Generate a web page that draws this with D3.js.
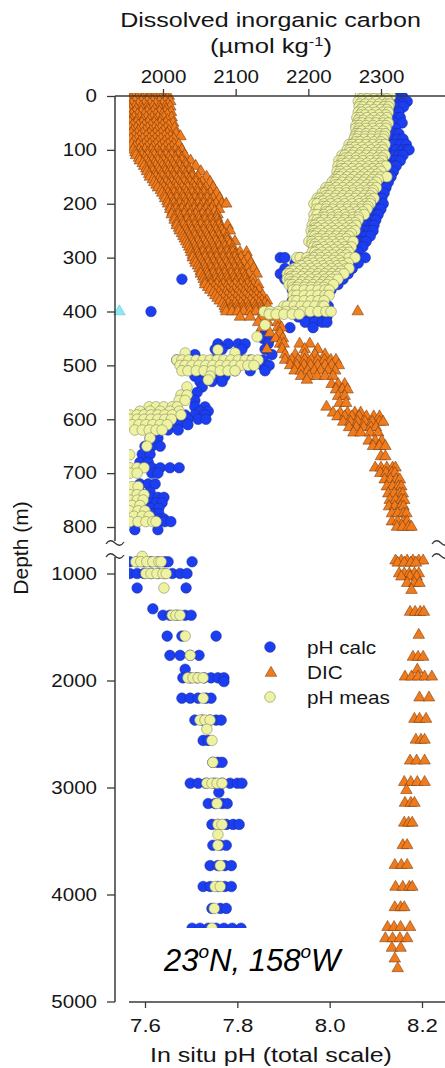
<!DOCTYPE html>
<html>
<head>
<meta charset="utf-8">
<script src="https://cdn.jsdelivr.net/npm/d3@7"></script>
<style>
  html, body { margin: 0; padding: 0; background: #fff; }
  svg { display: block; font-family: "Liberation Sans", Arial, Helvetica, sans-serif; }
</style>
</head>
<body>
<svg id="chart" width="445" height="1068"></svg>
<script>
// ---------------------------------------------------------------------------
// Station profile, 23°N 158°W: DIC (µmol/kg) and in situ pH vs depth (m).
// Each row is [depth, [values sampled at that depth across casts]].
// ---------------------------------------------------------------------------

const dicTicks = [2000, 2100, 2200, 2300];
const phTicks = [7.6, 7.8, 8.0, 8.2];
const depthTicksUpper = [0, 100, 200, 300, 400, 500, 600, 700, 800];
const depthTicksLower = [1000, 2000, 3000, 4000, 5000];
const legendLabels = ["pH calc", "DIC", "pH meas"];

// Dissolved inorganic carbon (µmol kg-1)
const dicRows = [
  [0, [1953, 1960, 1967, 1974, 1981, 1988, 1995, 2001, 2008]],
  [5, [1956, 1964, 1972, 1981, 1989, 1997, 2006]],
  [10, [1953, 1961, 1970, 1978, 1986, 1995, 2003, 2010]],
  [15, [1957, 1966, 1974, 1982, 1990, 1999, 2007]],
  [20, [1953, 1961, 1970, 1978, 1986, 1995, 2003, 2010]],
  [25, [1955, 1963, 1971, 1979, 1988, 1996, 2004]],
  [30, [1953, 1961, 1970, 1978, 1986, 1995, 2003, 2011]],
  [35, [1957, 1965, 1974, 1982, 1990, 1999, 2006]],
  [40, [1953, 1960, 1968, 1977, 1985, 1993, 2001, 2012]],
  [45, [1956, 1964, 1972, 1981, 1989, 1997, 2006]],
  [50, [1955, 1963, 1971, 1979, 1988, 1996, 2004, 2014]],
  [55, [1958, 1966, 1974, 1983, 1991, 1999, 2008]],
  [60, [1955, 1963, 1971, 1979, 1988, 1996, 2004, 2016]],
  [65, [1958, 1966, 1975, 1983, 1991, 2000, 2008]],
  [70, [1956, 1964, 1972, 1981, 1989, 1997, 2006, 2018]],
  [75, [1960, 1968, 1977, 1985, 1993, 2002, 2010, 2024]],
  [80, [1956, 1964, 1972, 1981, 1989, 1997, 2006, 2015]],
  [85, [1960, 1968, 1977, 1985, 1993, 2002, 2011]],
  [90, [1957, 1966, 1974, 1982, 1990, 1999, 2007, 2015, 2022]],
  [95, [1961, 1970, 1978, 1986, 1995, 2003, 2012]],
  [100, [1959, 1967, 1975, 1984, 1992, 2000, 2008, 2017, 2026]],
  [105, [1962, 1970, 1979, 1987, 1995, 2004, 2012, 2021]],
  [110, [1963, 1971, 1979, 1988, 1996, 2004, 2012, 2021, 2030]],
  [115, [1967, 1975, 1983, 1992, 2000, 2008, 2017, 2026]],
  [120, [1968, 1977, 1985, 1993, 2001, 2010, 2018, 2026, 2038]],
  [125, [1972, 1980, 1988, 1997, 2005, 2013, 2022, 2031]],
  [130, [1974, 1982, 1990, 1999, 2007, 2015, 2023, 2032, 2045]],
  [135, [1977, 1985, 1993, 2002, 2010, 2018, 2027, 2036]],
  [140, [1978, 1986, 1995, 2003, 2011, 2019, 2028, 2036, 2052]],
  [145, [1981, 1989, 1998, 2006, 2014, 2023, 2031, 2040]],
  [150, [1982, 1990, 1999, 2007, 2015, 2023, 2032, 2040, 2048, 2060]],
  [155, [1986, 1994, 2003, 2011, 2019, 2028, 2036, 2045]],
  [160, [1988, 1996, 2004, 2012, 2021, 2029, 2037, 2045, 2054, 2065]],
  [165, [1991, 1999, 2008, 2016, 2024, 2033, 2041, 2050]],
  [170, [1993, 2001, 2010, 2018, 2026, 2034, 2043, 2051, 2059, 2069]],
  [175, [1997, 2005, 2014, 2022, 2030, 2039, 2047, 2056]],
  [180, [1999, 2007, 2015, 2023, 2032, 2040, 2048, 2056, 2065, 2074]],
  [185, [2002, 2010, 2019, 2027, 2035, 2044, 2052, 2061]],
  [190, [2003, 2011, 2019, 2028, 2036, 2044, 2052, 2061, 2069, 2078]],
  [195, [2006, 2014, 2023, 2031, 2039, 2048, 2056, 2065]],
  [200, [2007, 2015, 2023, 2032, 2040, 2048, 2056, 2065, 2073, 2081, 2087]],
  [205, [2010, 2018, 2027, 2035, 2043, 2052, 2060, 2068]],
  [210, [2010, 2018, 2026, 2034, 2043, 2051, 2059, 2067, 2077]],
  [215, [2013, 2021, 2030, 2038, 2046, 2055, 2063, 2071]],
  [220, [2012, 2021, 2029, 2037, 2045, 2054, 2062, 2075]],
  [225, [2016, 2024, 2033, 2041, 2049, 2058, 2066, 2074]],
  [230, [2016, 2025, 2033, 2041, 2050, 2058, 2066, 2075]],
  [235, [2019, 2027, 2036, 2044, 2052, 2061, 2069, 2077]],
  [240, [2019, 2028, 2036, 2044, 2052, 2061, 2069, 2077, 2089]],
  [245, [2022, 2031, 2039, 2047, 2056, 2064, 2072, 2080]],
  [250, [2023, 2032, 2040, 2048, 2056, 2065, 2073, 2081, 2092]],
  [255, [2026, 2034, 2043, 2051, 2059, 2068, 2076, 2084]],
  [260, [2028, 2036, 2044, 2052, 2061, 2069, 2077, 2088]],
  [265, [2030, 2038, 2047, 2055, 2063, 2072, 2080, 2088]],
  [270, [2032, 2040, 2048, 2056, 2065, 2073, 2081, 2089, 2099]],
  [275, [2034, 2042, 2051, 2059, 2067, 2076, 2084, 2092]],
  [280, [2036, 2044, 2052, 2061, 2069, 2077, 2085, 2096]],
  [285, [2038, 2046, 2055, 2063, 2071, 2080, 2088, 2096]],
  [290, [2039, 2047, 2055, 2063, 2072, 2080, 2088, 2096, 2106, 2115]],
  [295, [2041, 2049, 2058, 2066, 2074, 2083, 2091, 2099]],
  [300, [2041, 2050, 2058, 2066, 2074, 2083, 2091, 2099, 2107, 2117]],
  [305, [2044, 2052, 2061, 2069, 2077, 2086, 2094, 2102]],
  [310, [2045, 2054, 2062, 2070, 2078, 2087, 2095, 2103, 2111, 2121]],
  [315, [2048, 2056, 2065, 2073, 2081, 2090, 2098, 2106]],
  [320, [2050, 2058, 2066, 2074, 2083, 2091, 2099, 2107, 2116, 2125]],
  [325, [2052, 2060, 2069, 2077, 2085, 2094, 2102, 2110]],
  [330, [2052, 2061, 2069, 2077, 2085, 2094, 2102, 2110, 2118, 2129]],
  [335, [2055, 2063, 2072, 2080, 2088, 2097, 2105, 2113]],
  [340, [2056, 2065, 2073, 2081, 2089, 2098, 2106, 2114, 2124]],
  [345, [2058, 2066, 2075, 2083, 2091, 2100, 2108, 2116]],
  [350, [2058, 2066, 2074, 2083, 2091, 2099, 2107, 2116, 2124, 2131]],
  [355, [2062, 2070, 2079, 2087, 2095, 2104, 2112, 2120]],
  [360, [2065, 2073, 2081, 2089, 2098, 2106, 2114, 2122, 2132]],
  [365, [2069, 2077, 2086, 2094, 2102, 2111, 2119, 2127]],
  [370, [2072, 2080, 2088, 2096, 2105, 2113, 2121, 2129, 2137]],
  [375, [2075, 2083, 2092, 2100, 2108, 2117, 2125, 2133]],
  [380, [2078, 2087, 2095, 2103, 2111, 2120, 2128, 2136, 2143]],
  [385, [2082, 2090, 2099, 2107, 2115, 2124, 2132, 2140]],
  [390, [2085, 2094, 2102, 2110, 2118, 2127, 2135, 2144]],
  [395, [2086, 2094, 2103, 2111, 2119, 2128, 2136]],
  [400, [2087, 2095, 2103, 2111, 2120, 2128, 2137, 2268]],
  [410, [2106, 2120, 2136, 2150]],
  [420, [2131, 2144, 2158]],
  [430, [2136, 2158, 2163]],
  [440, [2147, 2161]],
  [450, [2155, 2165]],
  [460, [2161, 2166, 2188, 2202]],
  [470, [2143, 2164, 2195, 2213]],
  [480, [2168, 2182, 2195, 2209, 2223]],
  [490, [2168, 2177, 2186, 2195, 2204, 2213, 2222, 2231, 2238]],
  [500, [2175, 2184, 2194, 2203, 2213, 2223, 2232, 2242]],
  [510, [2181, 2190, 2199, 2208, 2217, 2227, 2237]],
  [520, [2190, 2201, 2212, 2223, 2234]],
  [527, [2198]],
  [535, [2232, 2241, 2250]],
  [545, [2238, 2247, 2254]],
  [557, [2241, 2250]],
  [570, [2243, 2252]],
  [577, [2225]],
  [588, [2234, 2244, 2254, 2264, 2272]],
  [595, [2240, 2250, 2260, 2270, 2280, 2290, 2298]],
  [605, [2248, 2258, 2268, 2278, 2288, 2298, 2303]],
  [615, [2256, 2266, 2276, 2286, 2293]],
  [625, [2262, 2272, 2285, 2296]],
  [640, [2283, 2292, 2301]],
  [650, [2289, 2298, 2306]],
  [669, [2300, 2306]],
  [690, [2292, 2300, 2308, 2316, 2320]],
  [700, [2299, 2307, 2315, 2319]],
  [712, [2305, 2313, 2321, 2326]],
  [725, [2308, 2316, 2324, 2328]],
  [738, [2310, 2318, 2326, 2330]],
  [750, [2312, 2320, 2328, 2332]],
  [762, [2311, 2319, 2327, 2331]],
  [775, [2315, 2323, 2331, 2335]],
  [790, [2315, 2323, 2331, 2336]],
  [800, [2322, 2330, 2338, 2342]],
  [880, [2320, 2328, 2336, 2344, 2352, 2358]],
  [900, [2323, 2332, 2341, 2348]],
  [1000, [2325, 2332, 2339, 2346, 2352]],
  [1030, [2328, 2340, 2349]],
  [1090, [2336, 2346, 2353]],
  [1155, [2342]],
  [1360, [2340, 2347, 2354, 2359]],
  [1575, [2352]],
  [1780, [2344, 2351, 2358]],
  [1900, [2350]],
  [1965, [2333, 2342, 2351, 2360, 2370]],
  [2160, [2353, 2366]],
  [2360, [2346, 2353, 2362]],
  [2555, [2348, 2355, 2360]],
  [2750, [2340, 2349, 2360]],
  [2950, [2332, 2341, 2350, 2360]],
  [3025, [2335]],
  [3145, [2333, 2341, 2346]],
  [3330, [2332, 2338, 2343]],
  [3540, [2330, 2336]],
  [3725, [2319, 2328, 2336]],
  [3930, [2320, 2330, 2339, 2343]],
  [4120, [2319, 2327, 2332]],
  [4305, [2309, 2318, 2327, 2340]],
  [4410, [2306, 2316, 2326, 2336]],
  [4500, [2315, 2327]],
  [4600, [2319]],
  [4690, [2323]]
];

// Single flagged DIC sample plotted off the left edge
const dicFlagged = [[400, 1940]];

// pH calculated from DIC/alkalinity (total scale)
const phCalcRows = [
  [0, [8.105, 8.120, 8.135, 8.148, 8.157]],
  [5, [8.109, 8.127, 8.142, 8.153, 8.161]],
  [10, [8.100, 8.118, 8.135, 8.150, 8.162, 8.168]],
  [15, [8.113, 8.131, 8.146, 8.157]],
  [20, [8.105, 8.122, 8.140, 8.153, 8.160]],
  [30, [8.100, 8.118, 8.135, 8.150]],
  [40, [8.096, 8.113, 8.131, 8.146, 8.153]],
  [50, [8.105, 8.122, 8.140, 8.157]],
  [60, [8.100, 8.118, 8.135, 8.142]],
  [70, [8.109, 8.127, 8.142, 8.150]],
  [80, [8.113, 8.131, 8.146, 8.159]],
  [90, [8.120, 8.138, 8.153, 8.166]],
  [100, [8.127, 8.144, 8.159, 8.168, 8.172]],
  [110, [8.122, 8.140, 8.150, 8.159]],
  [120, [8.116, 8.131, 8.144, 8.153]],
  [130, [8.109, 8.127, 8.138, 8.144]],
  [140, [8.105, 8.120, 8.131, 8.138]],
  [150, [8.098, 8.113, 8.124, 8.133]],
  [160, [8.092, 8.107, 8.118, 8.127]],
  [170, [8.088, 8.100, 8.111, 8.122]],
  [180, [8.081, 8.096, 8.107, 8.118]],
  [190, [8.077, 8.092, 8.103, 8.113]],
  [200, [8.070, 8.085, 8.098, 8.109, 8.116]],
  [210, [8.066, 8.081, 8.094, 8.105, 8.111]],
  [220, [8.062, 8.075, 8.088, 8.098, 8.105]],
  [230, [8.059, 8.072, 8.085, 8.094, 8.100]],
  [240, [8.053, 8.066, 8.079, 8.090, 8.096]],
  [250, [8.049, 8.062, 8.075, 8.085, 8.094]],
  [260, [8.044, 8.057, 8.070, 8.079, 8.088]],
  [270, [8.040, 8.053, 8.066, 8.075, 8.079]],
  [280, [8.023, 8.036, 8.049, 8.059, 8.072]],
  [290, [8.001, 8.018, 8.033, 8.046, 8.062]],
  [300, [7.893, 7.903, 7.936, 7.979, 8.012, 8.044, 8.062, 8.077]],
  [310, [7.925, 7.958, 7.990, 8.023, 8.046, 8.062]],
  [320, [7.903, 7.936, 7.968, 8.001, 8.031, 8.049]],
  [330, [7.893, 7.914, 7.947, 7.979, 8.012, 8.040]],
  [340, [7.680, 7.903, 7.936, 7.968, 8.001, 8.029]],
  [350, [7.914, 7.940, 7.968, 7.997, 8.018]],
  [360, [7.919, 7.942, 7.968, 7.990, 8.003]],
  [370, [7.925, 7.947, 7.968, 7.990]],
  [380, [7.919, 7.940, 7.962, 7.984]],
  [390, [7.936, 7.958, 7.979, 7.997]],
  [400, [7.613, 7.936, 7.958, 7.979, 7.997]],
  [410, [7.932, 7.953, 7.975, 7.994]],
  [420, [7.947, 7.968, 7.984, 7.994]],
  [430, [7.914, 7.964]],
  [440, [7.860]],
  [450, [7.856, 7.871]],
  [460, [7.758, 7.780, 7.802, 7.817, 7.867]],
  [470, [7.752, 7.767, 7.810, 7.860]],
  [480, [7.708, 7.875]],
  [490, [7.669, 7.713, 7.747, 7.810, 7.828, 7.856]],
  [500, [7.687, 7.719, 7.752, 7.784, 7.823, 7.854, 7.869]],
  [510, [7.730, 7.763, 7.795, 7.828, 7.860]],
  [520, [7.708, 7.730, 7.752, 7.773]],
  [530, [7.719, 7.745, 7.767]],
  [540, [7.724]],
  [550, [7.713]],
  [565, [7.708]],
  [577, [7.708, 7.730]],
  [585, [7.719, 7.737]],
  [592, [7.687, 7.708, 7.730]],
  [600, [7.672, 7.693, 7.715, 7.732]],
  [610, [7.650, 7.672, 7.693]],
  [620, [7.628, 7.650, 7.672]],
  [635, [7.611, 7.628]],
  [650, [7.600, 7.615, 7.633]],
  [665, [7.594, 7.611]],
  [680, [7.589, 7.607]],
  [690, [7.615, 7.633, 7.654, 7.674]],
  [700, [7.615, 7.628]],
  [720, [7.589, 7.607, 7.622]],
  [735, [7.572, 7.589, 7.611]],
  [745, [7.594, 7.611, 7.628, 7.641]],
  [755, [7.589, 7.607, 7.624, 7.637]],
  [765, [7.589, 7.611, 7.630]],
  [775, [7.600, 7.615, 7.630]],
  [785, [7.611, 7.628, 7.641]],
  [790, [7.628, 7.643, 7.656]],
  [805, [7.578, 7.628]],
  [890, [7.567, 7.583, 7.598, 7.613, 7.628, 7.643, 7.650, 7.702]],
  [1000, [7.567, 7.583, 7.598, 7.613, 7.628, 7.643, 7.659, 7.676, 7.691]],
  [1135, [7.583, 7.689]],
  [1330, [7.617]],
  [1390, [7.639, 7.654, 7.669, 7.687, 7.700]],
  [1585, [7.648, 7.680, 7.754]],
  [1765, [7.654, 7.676, 7.698, 7.717]],
  [1895, [7.687]],
  [1975, [7.682, 7.698, 7.713, 7.728, 7.743, 7.758, 7.771]],
  [2010, [7.771]],
  [2165, [7.680, 7.698, 7.715, 7.732, 7.743]],
  [2370, [7.708, 7.724, 7.741, 7.754, 7.765]],
  [2560, [7.726, 7.737]],
  [2765, [7.747, 7.758, 7.767]],
  [2960, [7.698, 7.715, 7.732, 7.750, 7.767, 7.784, 7.800, 7.810]],
  [3045, [7.760]],
  [3150, [7.737, 7.752, 7.767, 7.778]],
  [3345, [7.745, 7.758, 7.776, 7.791, 7.804]],
  [3540, [7.747, 7.763, 7.776]],
  [3730, [7.741, 7.758, 7.773, 7.787]],
  [3925, [7.726, 7.741, 7.758, 7.773, 7.787]],
  [4130, [7.745, 7.763, 7.776]],
  [4315, [7.702, 7.719, 7.737, 7.754, 7.771, 7.789, 7.808]]
];

// pH measured spectrophotometrically (total scale)
const phMeasRows = [
  [0, [8.066, 8.075, 8.088, 8.100, 8.113, 8.124, 8.132]],
  [5, [8.068, 8.081, 8.096, 8.111, 8.124]],
  [10, [8.062, 8.070, 8.085, 8.100, 8.116, 8.127]],
  [15, [8.066, 8.077, 8.092, 8.107, 8.122, 8.130]],
  [20, [8.064, 8.072, 8.088, 8.103, 8.118, 8.128]],
  [25, [8.068, 8.081, 8.096, 8.111, 8.124]],
  [30, [8.062, 8.070, 8.085, 8.100, 8.116, 8.127]],
  [35, [8.066, 8.077, 8.092, 8.107, 8.122]],
  [40, [8.059, 8.066, 8.081, 8.096, 8.111, 8.124]],
  [45, [8.062, 8.072, 8.088, 8.103, 8.118]],
  [50, [8.062, 8.070, 8.085, 8.100, 8.116, 8.127]],
  [55, [8.057, 8.064, 8.079, 8.094, 8.109, 8.122]],
  [60, [8.057, 8.064, 8.079, 8.094, 8.109, 8.122]],
  [65, [8.062, 8.070, 8.085, 8.100, 8.116]],
  [70, [8.057, 8.064, 8.079, 8.094, 8.109, 8.120]],
  [75, [8.055, 8.062, 8.077, 8.092, 8.107, 8.118]],
  [80, [8.053, 8.059, 8.075, 8.090, 8.105, 8.116]],
  [85, [8.057, 8.066, 8.081, 8.096, 8.111]],
  [90, [8.042, 8.049, 8.064, 8.079, 8.094, 8.109, 8.120]],
  [95, [8.046, 8.055, 8.070, 8.085, 8.100, 8.113]],
  [100, [8.038, 8.044, 8.059, 8.075, 8.090, 8.105, 8.116]],
  [105, [8.044, 8.053, 8.068, 8.083, 8.098, 8.111]],
  [110, [8.027, 8.033, 8.049, 8.064, 8.079, 8.094, 8.109, 8.120]],
  [115, [8.033, 8.042, 8.057, 8.072, 8.088, 8.103, 8.114]],
  [120, [8.020, 8.027, 8.042, 8.057, 8.072, 8.088, 8.103, 8.114]],
  [125, [8.027, 8.036, 8.051, 8.066, 8.081, 8.096, 8.109]],
  [130, [8.018, 8.025, 8.040, 8.055, 8.070, 8.085, 8.100, 8.113, 8.122]],
  [135, [8.025, 8.033, 8.049, 8.064, 8.079, 8.094, 8.107]],
  [140, [8.016, 8.023, 8.038, 8.053, 8.068, 8.083, 8.098, 8.111]],
  [145, [8.020, 8.029, 8.044, 8.059, 8.075, 8.090, 8.103]],
  [150, [8.016, 8.023, 8.038, 8.053, 8.068, 8.083, 8.098, 8.111, 8.124]],
  [155, [8.010, 8.016, 8.031, 8.046, 8.062, 8.077, 8.092, 8.105]],
  [160, [8.005, 8.012, 8.027, 8.042, 8.057, 8.072, 8.088, 8.101]],
  [165, [8.012, 8.020, 8.036, 8.051, 8.066, 8.081, 8.094]],
  [170, [7.992, 7.999, 8.014, 8.029, 8.044, 8.059, 8.075, 8.090, 8.101]],
  [175, [7.997, 8.005, 8.020, 8.036, 8.051, 8.066, 8.081, 8.094]],
  [180, [7.984, 7.990, 8.005, 8.020, 8.036, 8.051, 8.066, 8.081, 8.092]],
  [185, [7.992, 7.999, 8.014, 8.029, 8.044, 8.059, 8.075, 8.088]],
  [190, [7.973, 7.979, 7.994, 8.010, 8.025, 8.040, 8.055, 8.070, 8.085, 8.096]],
  [195, [7.979, 7.986, 8.001, 8.016, 8.031, 8.046, 8.062, 8.077, 8.088]],
  [200, [7.966, 7.973, 7.988, 8.003, 8.018, 8.033, 8.049, 8.064, 8.079, 8.088]],
  [205, [7.986, 7.994, 8.010, 8.025, 8.040, 8.055, 8.070, 8.083]],
  [210, [7.971, 7.977, 7.992, 8.007, 8.023, 8.038, 8.053, 8.068, 8.081]],
  [215, [7.992, 7.999, 8.014, 8.029, 8.044, 8.059, 8.072]],
  [220, [7.966, 7.973, 7.988, 8.003, 8.018, 8.033, 8.049, 8.064, 8.075]],
  [225, [7.984, 7.990, 8.005, 8.020, 8.036, 8.051, 8.062]],
  [230, [7.966, 7.973, 7.988, 8.003, 8.018, 8.033, 8.049, 8.062]],
  [235, [7.975, 7.981, 7.997, 8.012, 8.027, 8.042, 8.055]],
  [240, [7.962, 7.968, 7.984, 7.999, 8.014, 8.029, 8.044, 8.057]],
  [245, [7.968, 7.975, 7.990, 8.005, 8.020, 8.036, 8.049]],
  [250, [7.960, 7.966, 7.981, 7.997, 8.012, 8.027, 8.042, 8.055]],
  [255, [7.966, 7.973, 7.988, 8.003, 8.018, 8.033, 8.047]],
  [260, [7.962, 7.968, 7.984, 7.999, 8.014, 8.029, 8.042]],
  [265, [7.971, 7.977, 7.992, 8.007, 8.023, 8.036]],
  [270, [7.955, 7.962, 7.977, 7.992, 8.007, 8.023, 8.038, 8.051]],
  [275, [7.962, 7.968, 7.984, 7.999, 8.014, 8.027]],
  [280, [7.966, 7.973, 7.988, 8.003, 8.018, 8.033, 8.047]],
  [285, [7.973, 7.979, 7.994, 8.010, 8.025, 8.038]],
  [290, [7.962, 7.968, 7.984, 7.999, 8.014, 8.029, 8.042]],
  [295, [7.971, 7.977, 7.992, 8.007, 8.023, 8.036]],
  [300, [7.929, 7.936, 7.951, 7.966, 7.981, 7.997, 8.012, 8.027, 8.042, 8.055]],
  [305, [7.955, 7.962, 7.977, 7.992, 8.007, 8.021]],
  [310, [7.945, 7.951, 7.966, 7.981, 7.997, 8.012, 8.027, 8.040]],
  [315, [7.934, 7.940, 7.955, 7.971, 7.986, 8.001, 8.016, 8.029]],
  [320, [7.923, 7.929, 7.945, 7.960, 7.975, 7.990, 8.005, 8.020, 8.036, 8.042]],
  [325, [7.914, 7.921, 7.936, 7.951, 7.966, 7.981, 7.997, 8.012, 8.025]],
  [330, [7.908, 7.914, 7.929, 7.945, 7.960, 7.975, 7.990, 8.005, 8.020, 8.031]],
  [335, [7.916, 7.925, 7.940, 7.955, 7.971, 7.986, 8.001, 8.014]],
  [340, [7.908, 7.914, 7.929, 7.945, 7.960, 7.975, 7.990, 8.005, 8.018]],
  [345, [7.916, 7.925, 7.940, 7.955, 7.971, 7.986, 7.999]],
  [350, [7.912, 7.919, 7.934, 7.949, 7.964, 7.979, 7.994, 8.008]],
  [355, [7.921, 7.929, 7.945, 7.960, 7.975, 7.988]],
  [360, [7.921, 7.929, 7.945, 7.960, 7.975, 7.990, 7.999]],
  [370, [7.921, 7.929, 7.945, 7.960, 7.975, 7.990, 7.999]],
  [380, [7.921, 7.929, 7.945, 7.960, 7.975, 7.988]],
  [390, [7.901, 7.908, 7.923, 7.938, 7.953, 7.968, 7.984, 7.988]],
  [400, [7.858, 7.871, 7.888, 7.906, 7.923, 7.940, 7.958, 7.975, 7.992, 8.003]],
  [405, [7.869, 7.884, 7.901, 7.919, 7.934]],
  [425, [7.860]],
  [447, [7.843]],
  [471, [7.758]],
  [477, [7.687, 7.795]],
  [490, [7.669, 7.680, 7.695, 7.711, 7.726, 7.741, 7.756, 7.771, 7.786, 7.802, 7.817, 7.832, 7.845]],
  [500, [7.676, 7.687, 7.702, 7.717, 7.732, 7.747, 7.763, 7.778, 7.793, 7.808, 7.823, 7.836]],
  [510, [7.680, 7.693, 7.711, 7.728, 7.745, 7.763, 7.780, 7.795]],
  [520, [7.741]],
  [527, [7.737]],
  [540, [7.691]],
  [555, [7.678, 7.691]],
  [565, [7.674, 7.687]],
  [577, [7.609, 7.624, 7.641, 7.659, 7.670]],
  [585, [7.589, 7.611, 7.633, 7.654, 7.674]],
  [592, [7.567, 7.583, 7.598, 7.613, 7.628, 7.643, 7.659, 7.678]],
  [600, [7.567, 7.583, 7.598, 7.613, 7.628, 7.643, 7.657]],
  [610, [7.572, 7.587, 7.602, 7.617, 7.633, 7.648]],
  [620, [7.578, 7.594, 7.609, 7.624, 7.637]],
  [635, [7.611]],
  [650, [7.604]],
  [666, [7.567]],
  [690, [7.567, 7.583, 7.598]],
  [700, [7.567, 7.583]],
  [725, [7.572, 7.585]],
  [740, [7.567, 7.583, 7.598]],
  [750, [7.567, 7.583, 7.596]],
  [760, [7.572, 7.589]],
  [770, [7.567, 7.585, 7.600]],
  [780, [7.576, 7.594, 7.609]],
  [790, [7.567, 7.585, 7.602, 7.617, 7.624]],
  [840, [7.594]],
  [890, [7.580, 7.591, 7.604, 7.617, 7.630, 7.635]],
  [1000, [7.602, 7.613, 7.626, 7.639, 7.646]],
  [1135, [7.641]],
  [1390, [7.659, 7.667, 7.676]],
  [1585, [7.687]],
  [1765, [7.698]],
  [1975, [7.693, 7.704, 7.715, 7.726]],
  [2165, [7.726]],
  [2370, [7.719, 7.730, 7.741]],
  [2455, [7.734]],
  [2560, [7.745]],
  [2765, [7.747]],
  [2960, [7.734, 7.745, 7.756, 7.767]],
  [3150, [7.756]],
  [3345, [7.758, 7.767]],
  [3440, [7.758]],
  [3540, [7.758]],
  [3730, [7.763]],
  [3925, [7.752, 7.763]],
  [4130, [7.750]],
  [4315, [7.745]]
];

// ---------------------------------------------------------------------------
// Layout and scales
// ---------------------------------------------------------------------------
const svg = d3.select("#chart");
const W = 445;
const axisX = 115;          // left depth axis
const plotLeft = 129;       // data region / bottom axis start
const plotRight = 446;
const topY = 96;
const bottomY = 1002;
const BREAK_DEPTH = 825;    // depths below this go to the lower panel

const xDic = d3.scaleLinear().domain([2000, 2300]).range([163, 381]);
const xPh = d3.scaleLinear().domain([7.6, 8.2]).range([145, 422]);
const yUpper = d3.scaleLinear().domain([0, 800]).range([96, 527]);
const yLower = d3.scaleLinear().domain([1000, 5000]).range([573.5, 1001.5]);
const yDepth = d => (d < BREAK_DEPTH ? yUpper(d) : yLower(d));

const flatten = rows => rows.flatMap(([d, vals]) => vals.map(v => ({ d, v })));

const COLORS = {
  calc: "#1c3ef2", calcStroke: "#1a2a8c",
  dic: "#ef7b1c", dicStroke: "#6a3008",
  meas: "#eef3a2", measStroke: "#8c8c64",
  axis: "#3a3a3a", text: "#151515"
};
const R = 5.3;
const triangle = d3.symbol().type(d3.symbolTriangle).size(58);

// clip for the data area
svg.append("defs").append("clipPath").attr("id", "plotClip")
  .append("rect").attr("x", plotLeft).attr("y", 93)
  .attr("width", plotRight - plotLeft).attr("height", bottomY - 93);

const plot = svg.append("g").attr("clip-path", "url(#plotClip)");

// pH calc (drawn first, beneath the other series)
plot.append("g").selectAll("circle").data(flatten(phCalcRows)).join("circle")
  .attr("cx", p => xPh(p.v)).attr("cy", p => yDepth(p.d)).attr("r", R)
  .attr("fill", COLORS.calc).attr("stroke", COLORS.calcStroke).attr("stroke-width", 0.5);

// DIC
plot.append("g").selectAll("path").data(flatten(dicRows)).join("path")
  .attr("d", triangle)
  .attr("transform", p => `translate(${xDic(p.v)},${yDepth(p.d)})`)
  .attr("fill", COLORS.dic).attr("stroke", COLORS.dicStroke).attr("stroke-width", 0.5);

// pH meas
plot.append("g").selectAll("circle").data(flatten(phMeasRows)).join("circle")
  .attr("cx", p => xPh(p.v)).attr("cy", p => yDepth(p.d)).attr("r", R)
  .attr("fill", COLORS.meas).attr("stroke", COLORS.measStroke).attr("stroke-width", 0.6);

// flagged sample outside the data area
svg.append("g").selectAll("path").data(dicFlagged).join("path")
  .attr("d", triangle)
  .attr("transform", ([d, v]) => `translate(${xDic(v)},${yDepth(d)})`)
  .attr("fill", "#86ecf2").attr("stroke", "#5fb8c0").attr("stroke-width", 0.5);

// ---------------------------------------------------------------------------
// Axes
// ---------------------------------------------------------------------------
function styleAxis(g, size) {
  g.select(".domain").remove();
  g.selectAll(".tick line").attr("stroke", COLORS.axis).attr("stroke-width", 1.3);
  g.selectAll(".tick text").attr("fill", COLORS.text)
    .attr("font-size", size).attr("font-family", "Liberation Sans, Arial, sans-serif");
}
function stretch(sel, k) {
  sel.each(function () {
    const w = this.getComputedTextLength();
    d3.select(this).attr("textLength", w * k).attr("lengthAdjust", "spacingAndGlyphs");
  });
}

const topAxis = svg.append("g").attr("transform", `translate(0,${topY})`)
  .call(d3.axisTop(xDic).tickValues(dicTicks).tickSize(7).tickPadding(6).tickFormat(d3.format("d")));
styleAxis(topAxis, 18);
stretch(topAxis.selectAll(".tick text"), 1.14);

const leftUpper = svg.append("g").attr("transform", `translate(${axisX},0)`)
  .call(d3.axisLeft(yUpper).tickValues(depthTicksUpper).tickSize(8).tickPadding(10).tickFormat(d3.format("d")));
styleAxis(leftUpper, 18);
stretch(leftUpper.selectAll(".tick text"), 1.14);

const leftLower = svg.append("g").attr("transform", `translate(${axisX},0)`)
  .call(d3.axisLeft(yLower).tickValues(depthTicksLower).tickSize(8).tickPadding(10).tickFormat(d3.format("d")));
styleAxis(leftLower, 18);
stretch(leftLower.selectAll(".tick text"), 1.14);

const bottomAxis = svg.append("g").attr("transform", `translate(0,${bottomY})`)
  .call(d3.axisBottom(xPh).tickValues(phTicks).tickSize(6).tickPadding(11).tickFormat(d3.format(".1f")));
styleAxis(bottomAxis, 18.5);
stretch(bottomAxis.selectAll(".tick text"), 1.2);

// axis lines with the depth break
const gapTop = 541, gapBottom = 557;
const lines = svg.append("g").attr("stroke", COLORS.axis).attr("stroke-width", 1.5).attr("fill", "none");
lines.append("line").attr("x1", axisX).attr("x2", W).attr("y1", topY).attr("y2", topY);
lines.append("line").attr("x1", axisX).attr("x2", axisX).attr("y1", topY).attr("y2", gapTop);
lines.append("line").attr("x1", axisX).attr("x2", axisX).attr("y1", gapBottom).attr("y2", bottomY);
lines.append("line").attr("x1", plotLeft).attr("x2", W).attr("y1", bottomY).attr("y2", bottomY);
lines.append("line").attr("x1", plotRight).attr("x2", plotRight).attr("y1", topY).attr("y2", gapTop);
lines.append("line").attr("x1", plotRight).attr("x2", plotRight).attr("y1", gapBottom).attr("y2", bottomY);

// break symbols on both vertical axes
[axisX, plotRight - 5].forEach(cx => {
  [gapTop + 2, gapBottom - 1].forEach(cy => {
    lines.append("path")
      .attr("d", `M${cx - 9},${cy + 1} Q${cx - 5},${cy - 5} ${cx},${cy} Q${cx + 5},${cy + 5} ${cx + 9},${cy - 1}`)
      .attr("stroke-width", 1.3);
  });
});

// ---------------------------------------------------------------------------
// Titles
// ---------------------------------------------------------------------------
function stretchedTitle(cx, y, size, targetWidth, build) {
  const g = svg.append("g");
  const t = g.append("text").attr("x", 0).attr("y", 0)
    .attr("text-anchor", "middle").attr("font-size", size).attr("fill", COLORS.text);
  build(t);
  const w = t.node().getBBox().width;
  g.attr("transform", `translate(${cx},${y}) scale(${targetWidth / w},1)`);
}

stretchedTitle(270.5, 27, 19.5, 301, t => t.text("Dissolved inorganic carbon"));
stretchedTitle(271, 53, 19.5, 122, t => {
  t.append("tspan").text("(\u00b5mol kg");
  t.append("tspan").attr("dy", -7).attr("font-size", 12.5).text("-1");
  t.append("tspan").attr("dy", 7).text(")");
});
stretchedTitle(271, 1062, 19.5, 242, t => t.text("In situ pH (total scale)"));

svg.append("text")
  .attr("transform", "translate(28,548) rotate(-90)")
  .attr("text-anchor", "middle").attr("font-size", 21).attr("fill", COLORS.text)
  .text("Depth (m)");

// ---------------------------------------------------------------------------
// Legend
// ---------------------------------------------------------------------------
const legend = svg.append("g").attr("transform", "translate(270,647)");
legendLabels.forEach((label, i) => {
  const row = legend.append("g").attr("transform", `translate(0,${i * 25})`);
  if (i === 1) {
    row.append("path").attr("d", triangle).attr("transform", "translate(1,1)")
      .attr("fill", COLORS.dic).attr("stroke", COLORS.dicStroke).attr("stroke-width", 0.5);
  } else {
    row.append("circle").attr("r", R)
      .attr("fill", i === 0 ? COLORS.calc : COLORS.meas)
      .attr("stroke", i === 0 ? COLORS.calcStroke : COLORS.measStroke)
      .attr("stroke-width", 0.6);
  }
  const t = row.append("text").attr("x", 37).attr("y", 7)
    .attr("font-size", 18.5).attr("fill", COLORS.text).text(label);
  stretch(t, 1.12);
});

// ---------------------------------------------------------------------------
// Station label (on a white panel that masks the deepest profile row)
// ---------------------------------------------------------------------------
svg.append("rect").attr("x", 150).attr("y", 928).attr("width", 215).attr("height", 62).attr("fill", "#fff");
const station = svg.append("text").attr("x", 164).attr("y", 971)
  .attr("font-size", 31).attr("font-style", "italic").attr("fill", "#000");
station.append("tspan").text("23");
station.append("tspan").attr("dy", -13).attr("font-size", 19).text("o");
station.append("tspan").attr("dy", 13).text("N, 158");
station.append("tspan").attr("dy", -13).attr("font-size", 19).text("o");
station.append("tspan").attr("dy", 13).text("W");
</script>
</body>
</html>
